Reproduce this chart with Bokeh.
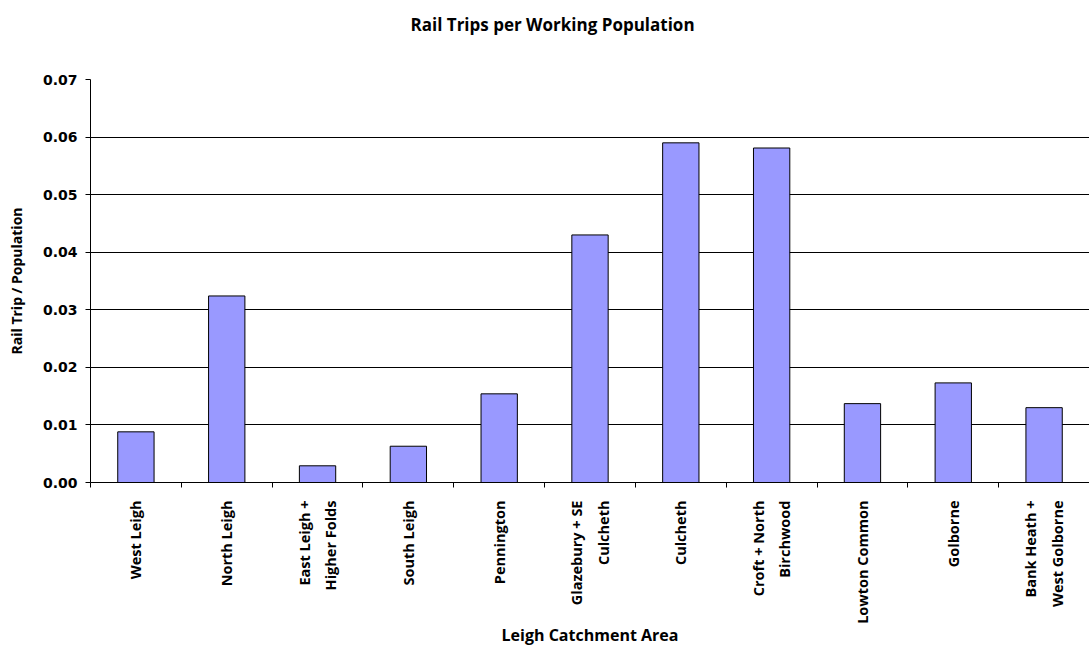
import math
from bokeh.plotting import figure
from bokeh.models import ColumnDataSource, FixedTicker, Title, NumeralTickFormatter, Range1d
from bokeh.embed import file_html
from bokeh.resources import INLINE

areas = ["West Leigh", "North Leigh", "East Leigh +\nHigher Folds", "South Leigh",
         "Pennington", "Glazebury + SE\nCulcheth", "Culcheth", "Croft + North\nBirchwood",
         "Lowton Common", "Golborne", "Bank Heath +\nWest Golborne"]
trips_per_pop = [0.0088, 0.0324, 0.0029, 0.0063, 0.0154, 0.0430, 0.0590, 0.0581,
                 0.0137, 0.0173, 0.0130]
y_ticks = [0.0, 0.01, 0.02, 0.03, 0.04, 0.05, 0.06, 0.07]

centers = [i + 0.5 for i in range(len(areas))]
src = ColumnDataSource(dict(x=centers, top=trips_per_pop))

p = figure(width=1089, height=648, output_backend="svg", toolbar_location=None,
           x_range=Range1d(0, len(areas)), y_range=Range1d(0, 0.07),
           min_border_left=90, min_border_right=0, min_border_top=79, min_border_bottom=166)

p.vbar(x="x", top="top", width=0.4, source=src, fill_color="#9999FF",
       line_color="black", line_width=1)

# spacer keeps the title well above the plot frame
spacer = Title(text=" ", text_font_size="1px", standoff=39)
p.add_layout(spacer, "above")
title = Title(text="Rail Trips per Working Population", align="left", offset=320,
              vertical_align="top",
              text_font="Open Sans", text_font_style="bold", text_font_size="17px",
              text_color="black", standoff=0)
p.add_layout(title, "above")

p.outline_line_color = None
p.background_fill_color = "white"
p.border_fill_color = "white"

# y axis
p.yaxis.ticker = FixedTicker(ticks=y_ticks)
p.yaxis.formatter = NumeralTickFormatter(format="0.00")
p.yaxis.axis_label = "Rail Trip / Population"
p.yaxis.axis_label_text_font = "Open Sans"
p.yaxis.axis_label_text_font_style = "bold"
p.yaxis.axis_label_text_font_size = "14px"
p.yaxis.axis_label_text_color = "black"
p.yaxis.axis_label_standoff = 14
p.yaxis.major_label_text_font = "DejaVu Sans"
p.yaxis.major_label_text_font_style = "bold"
p.yaxis.major_label_text_font_size = "14px"
p.yaxis.major_label_text_color = "black"
p.yaxis.major_label_standoff = 8
p.yaxis.major_tick_out = 5
p.yaxis.major_tick_in = 0
p.yaxis.minor_tick_out = 0
p.yaxis.minor_tick_in = 0
p.yaxis.axis_line_color = "black"
p.yaxis.major_tick_line_color = "black"

# x axis
p.xaxis.ticker = FixedTicker(ticks=centers, minor_ticks=list(range(len(areas) + 1)))
p.xaxis.major_label_overrides = {c: a for c, a in zip(centers, areas)}
p.xaxis.major_label_orientation = math.pi / 2
p.xaxis.major_label_text_font = "Open Sans"
p.xaxis.major_label_text_font_style = "bold"
p.xaxis.major_label_text_font_size = "14.5px"
p.xaxis.major_label_text_line_height = 1.4
p.xaxis.major_label_text_color = "black"
p.xaxis.major_label_standoff = 13
p.xaxis.major_tick_out = 0
p.xaxis.major_tick_in = 0
p.xaxis.minor_tick_out = 5
p.xaxis.minor_tick_in = 0
p.xaxis.minor_tick_line_color = "black"
p.xaxis.axis_line_color = "black"
p.xaxis.axis_label = "Leigh Catchment Area"
p.xaxis.axis_label_text_font = "Open Sans"
p.xaxis.axis_label_text_font_style = "bold"
p.xaxis.axis_label_text_font_size = "16px"
p.xaxis.axis_label_text_color = "black"
p.xaxis.axis_label_standoff = -3

p.xgrid.grid_line_color = None
p.ygrid.ticker = FixedTicker(ticks=y_ticks)
p.ygrid.grid_line_color = "black"
p.ygrid.grid_line_width = 1

open("out.html", "w").write(file_html(p, INLINE))
